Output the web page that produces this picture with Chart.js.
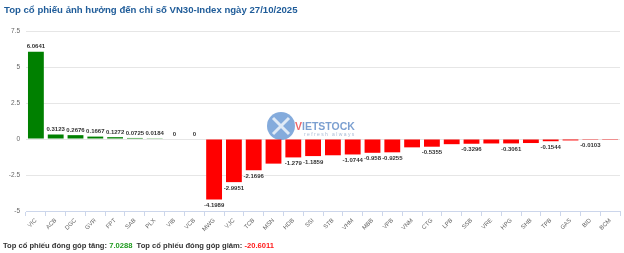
<!DOCTYPE html>
<html>
<head>
<meta charset="utf-8">
<script src="https://cdn.jsdelivr.net/npm/chart.js@4.4.1/dist/chart.umd.min.js"></script>
<style>
  html, body { margin: 0; padding: 0; background: #fff; }
  #wrap { position: relative; width: 624px; height: 253px; overflow: hidden; font-family: "Liberation Sans", Arial, sans-serif; }
  #chart { position: absolute; left: 0; top: 0; }
  #title { position: absolute; left: 4px; top: 4px; font-size: 9.6px; font-weight: bold; color: #1f5c99; white-space: nowrap; }
  #footer { position: absolute; left: 3px; top: 241px; font-size: 7.6px; font-weight: bold; color: #333; white-space: nowrap; }
  .up { color: #1e9a1e; }
  .down { color: #ff1a1a; }
</style>
</head>
<body>
<div id="wrap">
  <canvas id="chart" width="624" height="253"></canvas>
  <div id="title">Top cổ phiếu ảnh hưởng đến chỉ số VN30-Index ngày 27/10/2025</div>
  <div id="footer">Top cổ phiếu đóng góp tăng: <span class="up">7.0288</span>&nbsp;&nbsp;Top cổ phiếu đóng góp giảm: <span class="down">-20.6011</span></div>
</div>
<script>
// Mã cổ phiếu (trục X)
const maCoPhieu = ['VIC', 'ACB', 'DGC', 'GVR', 'FPT', 'SAB', 'PLX', 'VIB', 'VCB', 'MWG',
                   'VJC', 'TCB', 'MSN', 'HDB', 'SSI', 'STB', 'VHM', 'MBB', 'VPB', 'VNM',
                   'CTG', 'LPB', 'SSB', 'VRE', 'HPG', 'SHB', 'TPB', 'GAS', 'BID', 'BCM'];

// Điểm ảnh hưởng (ước lượng cho các mã không có nhãn)
const diemAnhHuong = [6.0641, 0.3123, 0.2676, 0.1667, 0.1272, 0.0725, 0.0184, 0, 0, -4.1989,
                      -2.9951, -2.1696, -1.71, -1.279, -1.1859, -1.13, -1.0744, -0.958, -0.9255, -0.58,
                      -0.5355, -0.36, -0.3296, -0.31, -0.3061, -0.28, -0.1544, -0.1, -0.0103, -0.0088];

// Các mã bị ẩn nhãn (trùng nhãn trên ảnh gốc)
const anNhan = ['MSN', 'STB', 'VNM', 'LPB', 'VRE', 'SHB', 'GAS', 'BCM'];

// Trục Y
const yTicks = [-5, -2.5, 0, 2.5, 5, 7.5];

const mauTang = '#008000';
const mauGiam = '#ff0000';

// Plugin vẽ nhãn giá trị trên/dưới cột
const nhanGiaTri = {
  id: 'nhanGiaTri',
  afterDatasetsDraw(chart) {
    const ctx = chart.ctx;
    const meta = chart.getDatasetMeta(0);
    ctx.save();
    ctx.font = 'bold 6px "Liberation Sans", Arial, sans-serif';
    ctx.textAlign = 'center';
    ctx.lineJoin = 'round';
    meta.data.forEach((bar, i) => {
      if (anNhan.includes(maCoPhieu[i])) return;
      const v = diemAnhHuong[i];
      const txt = String(v);
      let y;
      if (v >= 0) {
        ctx.textBaseline = 'bottom';
        y = bar.y - 2;
      } else {
        ctx.textBaseline = 'top';
        y = bar.y + 3;
      }
      ctx.strokeStyle = '#fff';
      ctx.lineWidth = 2;
      ctx.strokeText(txt, bar.x, y);
      ctx.fillStyle = '#333';
      ctx.fillText(txt, bar.x, y);
    });
    ctx.restore();
  }
};

// Plugin vẽ logo mờ phía sau
const logo = {
  id: 'logo',
  beforeDatasetsDraw(chart) {
    const ctx = chart.ctx;
    ctx.save();
    ctx.globalAlpha = 0.75;
    ctx.beginPath();
    ctx.arc(281, 126, 14, 0, Math.PI * 2);
    ctx.fillStyle = '#5b8fd0';
    ctx.fill();
    ctx.strokeStyle = '#ffffff';
    ctx.lineWidth = 3;
    ctx.beginPath();
    ctx.moveTo(273, 118); ctx.lineTo(289, 134);
    ctx.moveTo(289, 118); ctx.lineTo(273, 134);
    ctx.stroke();
    ctx.font = 'bold 10.5px "Liberation Sans", Arial, sans-serif';
    ctx.textBaseline = 'alphabetic';
    ctx.fillStyle = '#e8343a';
    ctx.fillText('V', 295, 130);
    ctx.fillStyle = '#4f7fc0';
    ctx.fillText('IETSTOCK', 302, 130);
    ctx.font = '5px "Liberation Sans", Arial, sans-serif';
    ctx.fillStyle = '#8da6c8';
    ctx.fillText('r e f r e s h   a l w a y s', 304, 136);
    ctx.restore();
  }
};

new Chart(document.getElementById('chart').getContext('2d'), {
  type: 'bar',
  data: {
    labels: maCoPhieu,
    datasets: [{
      data: diemAnhHuong,
      backgroundColor: diemAnhHuong.map(v => v >= 0 ? mauTang : mauGiam),
      barPercentage: 0.8,
      categoryPercentage: 1.0,
      borderWidth: 0
    }]
  },
  options: {
    responsive: false,
    animation: false,
    layout: { padding: { top: 31, right: 4, left: 0, bottom: 0 } },
    plugins: {
      legend: { display: false },
      tooltip: { enabled: false }
    },
    scales: {
      x: {
        offset: true,
        grid: {
          offset: true,
          drawOnChartArea: false,
          drawTicks: true,
          tickLength: 5,
          color: '#ccd6eb'
        },
        border: { color: '#ccd6eb' },
        ticks: {
          autoSkip: false,
          maxRotation: 45,
          minRotation: 45,
          padding: 1,
          color: '#666',
          font: { size: 6, family: '"Liberation Sans", Arial, sans-serif' }
        },
        afterFit(scale) { scale.height = 42; }
      },
      y: {
        min: -5,
        max: 7.5,
        afterBuildTicks(scale) { scale.ticks = yTicks.map(v => ({ value: v })); },
        grid: { color: '#e6e6e6', drawTicks: false },
        border: { display: false },
        ticks: {
          padding: 6,
          color: '#666',
          font: { size: 6.5, family: '"Liberation Sans", Arial, sans-serif' }
        },
        afterFit(scale) { scale.width = 26; }
      }
    }
  },
  plugins: [logo, nhanGiaTri]
});
</script>
</body>
</html>
